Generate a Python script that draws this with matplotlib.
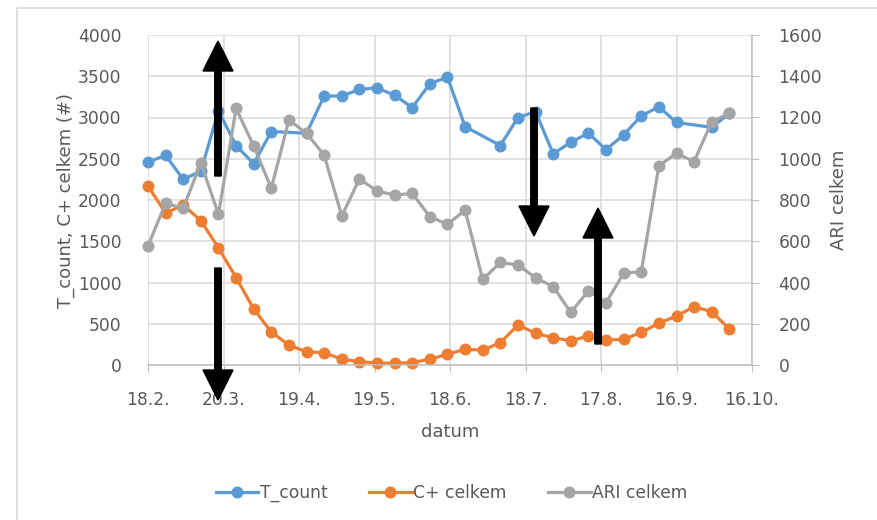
import numpy as np
import pandas as pd
import matplotlib
matplotlib.use("Agg")
import matplotlib.pyplot as plt
from matplotlib.patches import FancyArrow, Rectangle
from matplotlib.lines import Line2D
from matplotlib.transforms import Affine2D

# ---- data ----
start_date = "2021-02-18"
n_weeks = 34
t_count = [2460, 2540, 2250, 2350, 3080, 2660, 2440, 2830, np.nan, 2810,
           3260, 3260, 3340, 3360, 3270, 3120, 3410, 3490, 2890, np.nan,
           2660, 3000, 3070, 2560, 2700, 2810, 2610, 2790, 3020, 3130,
           2940, np.nan, 2880, 3050]
c_plus = [2170, 1840, 1940, 1750, 1420, 1060, 680, 400, 240, 160,
          150, 70, 40, 25, 20, 30, 70, 130, 190, 180,
          270, 485, 385, 330, 295, 350, 305, 310, 396, 505,
          594, 707, 646, 436]
ari = [578, 784, 760, 981, 730, 1244, 1062, 857, 1188, 1123,
       1018, 722, 902, 844, 824, 832, 719, 682, 751, 415,
       497, 485, 423, 380, 255, 360, 302, 445, 452, 966,
       1026, 986, 1180, 1220]
tick_labels = ["18.2.", "20.3.", "19.4.", "19.5.", "18.6.", "18.7.",
               "17.8.", "16.9.", "16.10."]
series_names = ["T_count", "C+ celkem", "ARI celkem"]

dates = pd.date_range(start_date, periods=n_weeks, freq="7D")
tick_dates = pd.date_range(start_date, periods=len(tick_labels), freq="30D")

# ---- style ----
BLUE, ORANGE, GRAY = "#5B9BD5", "#ED7D31", "#A5A5A5"
TXT = "#595959"
GRID = "#D9D9D9"
plt.rcParams["font.family"] = ["DejaVu Sans"]
FS = 12.3

fig = plt.figure(figsize=(8.77, 5.2), dpi=100)
fig.patch.set_facecolor("white")
W, H = 877, 520
ax = fig.add_axes([148 / W, 1 - 365 / H, (752 - 148) / W, (365 - 35) / H])
ax2 = ax.twinx()

lw, ms = 2.3, 7.6

def plot_connected(a, x, y, color, label):
    y = np.asarray(y, dtype=float)
    m = ~np.isnan(y)
    return a.plot(np.asarray(x)[m], y[m], color=color, lw=lw, marker="o",
                  ms=ms, mec=color, mfc=color, label=label,
                  solid_capstyle="round", clip_on=False)[0]

l1 = plot_connected(ax, dates, t_count, BLUE, series_names[0])
l2 = plot_connected(ax, dates, c_plus, ORANGE, series_names[1])
l3 = plot_connected(ax2, dates, ari, GRAY, series_names[2])

ax.set_xlim(tick_dates[0], tick_dates[-1])
ax.set_ylim(0, 4000)
ax2.set_ylim(0, 1600)
ax.set_yticks(np.arange(0, 4001, 500))
ax2.set_yticks(np.arange(0, 1601, 200))
ax.set_xticks(tick_dates)
ax.set_xticklabels(tick_labels)

ax.grid(True, color=GRID, lw=1.1)
ax.set_axisbelow(True)
for s in ["top", "left", "right"]:
    ax.spines[s].set_visible(False)
for s in ["top", "left", "bottom"]:
    ax2.spines[s].set_visible(False)
ax.spines["bottom"].set_color("#BFBFBF")
ax.spines["bottom"].set_linewidth(1.1)
ax2.spines["right"].set_color("#BFBFBF")
ax2.spines["right"].set_linewidth(1.1)

ax.tick_params(axis="y", length=0, pad=19, labelsize=FS, labelcolor=TXT)
ax.tick_params(axis="x", length=5, color="#BFBFBF", pad=14, labelsize=FS,
               labelcolor=TXT)
ax2.tick_params(axis="y", length=5, color="#BFBFBF", pad=14, labelsize=FS,
                labelcolor=TXT)

ax.set_ylabel("T_count, C+ celkem (#)", fontsize=FS + 0.7, color=TXT,
              labelpad=2)
ax2.set_ylabel("ARI celkem", fontsize=FS + 0.7, color=TXT, labelpad=6)
ax.set_xlabel("datum", fontsize=FS + 0.7, color=TXT, labelpad=10)

handles = [Line2D([], [], color=c, lw=lw, marker="o", ms=ms)
           for c in (BLUE, ORANGE, GRAY)]
leg = fig.legend(handles, series_names, loc="center", ncol=3,
                 bbox_to_anchor=(0.515, 1 - 493 / H), frameon=False,
                 fontsize=FS, handlelength=2.5, handletextpad=0.1,
                 columnspacing=2.4)
for t in leg.get_texts():
    t.set_color(TXT)

# pixel transform (origin top-left)
pix = Affine2D().scale(1 / W, -1 / H).translate(0, 1) + fig.transFigure

# outer chart border
fig.patches.append(Rectangle((17, 8), W, H, transform=pix, fill=False,
                             ec=GRID, lw=1.2))

# annotation arrows (x, tail_y, tip_y)
arrows = [(218, 176, 41), (218, 268, 400), (534, 108, 236), (598, 344, 208)]
for x, y0, y1 in arrows:
    fig.patches.append(FancyArrow(x, y0, 0, y1 - y0, width=6.5,
                                  head_width=30, head_length=30,
                                  length_includes_head=True, transform=pix,
                                  color="black", zorder=10))

fig.savefig("out.png", dpi=100, facecolor="white")
